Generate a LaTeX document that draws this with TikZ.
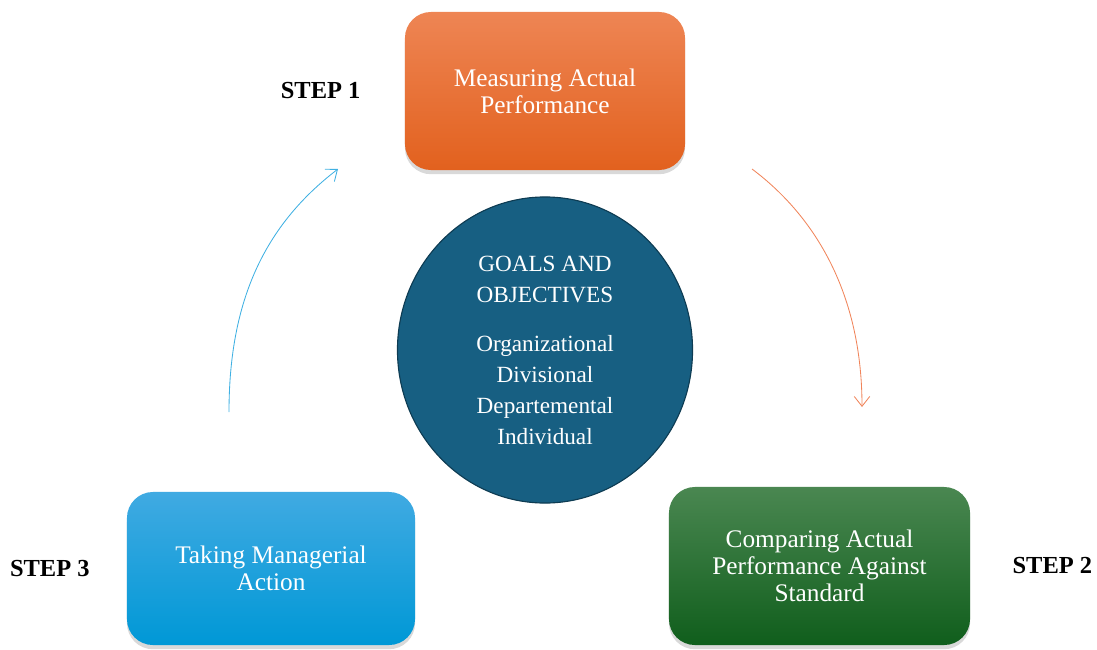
\documentclass[tikz,border=0pt]{standalone}
\usepackage{fontspec}
\setmainfont{Liberation Serif}
\usetikzlibrary{positioning,shapes.geometric,arrows.meta,shadows}
\definecolor{orangetop}{HTML}{EE8554}
\definecolor{orangebot}{HTML}{E2611E}
\definecolor{bluetop}{HTML}{40AAE2}
\definecolor{bluebot}{HTML}{0098D6}
\definecolor{greentop}{HTML}{4A8751}
\definecolor{greenbot}{HTML}{105E1C}
\definecolor{goalfill}{HTML}{175F82}
\definecolor{goaldraw}{HTML}{0E3C53}
\definecolor{arrowblue}{HTML}{3FB0E2}
\definecolor{arroworange}{HTML}{F0845A}
\begin{document}
\begin{tikzpicture}[x=0.025cm,y=-0.025cm,
	stepb/.style={
	  rounded corners=0.65cm,
	  text=white,
	  align=center,
	  font=\fontsize{18}{19}\selectfont,
	  drop shadow={shadow xshift=0pt,shadow yshift=-3pt,opacity=0.3}
	},
	labelb/.style={
	  font=\fontsize{17.4}{20}\selectfont\bfseries,
	  inner sep=0pt
	},
	flow/.style={
	  line width=0.6pt,
	  -{Straight Barb[length=7pt,width=11pt]}
	}]

	\useasboundingbox (0,0) rectangle (1097,650);

	\node[stepb,top color=orangetop,bottom color=orangebot,minimum width=7cm,minimum height=3.95cm] (Measure) at (545,91) {Measuring Actual\\Performance};
	\node[stepb,top color=greentop,bottom color=greenbot,minimum width=7.525cm,minimum height=3.95cm] (Compare) at (819.5,566) {Comparing Actual\\Performance Against\\Standard};
	\node[stepb,top color=bluetop,bottom color=bluebot,minimum width=7.2cm,minimum height=3.825cm] (Action) at (271,568.5) {Taking Managerial\\Action};

	\node[ellipse,draw=goaldraw,line width=0.8pt,fill=goalfill,text=white,align=center,
	  minimum width=7.375cm,minimum height=7.65cm,
	  font=\fontsize{16.5}{22}\selectfont] (Goals) at (545,350)
	  {GOALS AND\\OBJECTIVES\\[13pt]Organizational\\Divisional\\Departemental\\Individual};

	\node[labelb,left=1.1cm of Measure] (StepOne) {STEP 1};
	\node[labelb,right=1.05cm of Compare] (StepTwo) {STEP 2};
	\node[labelb,left=0.92cm of Action] (StepThree) {STEP 3};

	\coordinate (ActionOut) at (229,412);
	\coordinate (MeasureIn) at (338,169);
	\coordinate (MeasureOut) at (752,169);
	\coordinate (CompareIn) at (862,407);

	\draw[flow,arrowblue] (ActionOut) .. controls (229,300) and (265,225) .. (MeasureIn);
	\draw[flow,arroworange] (MeasureOut) .. controls (820,220) and (862,300) .. (CompareIn);
\end{tikzpicture}
\end{document}
